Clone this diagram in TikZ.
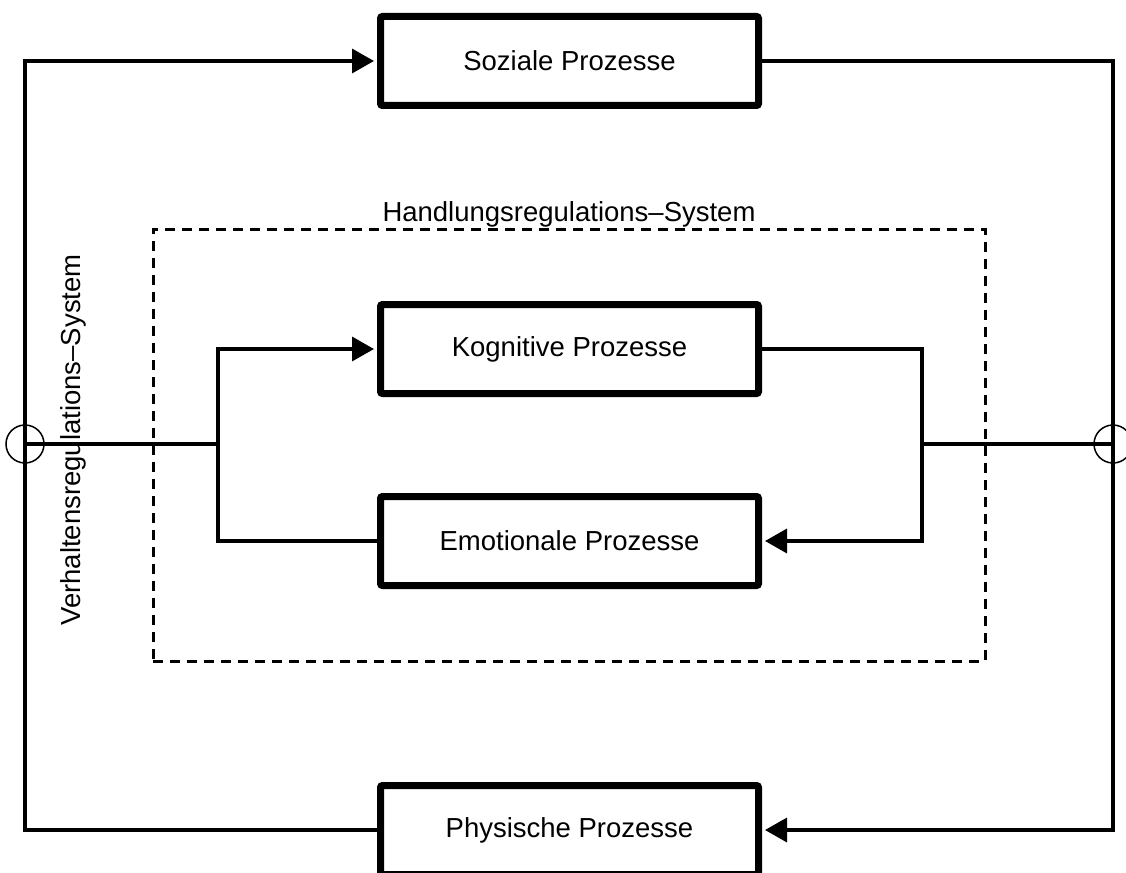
\documentclass[tikz,border=0pt]{standalone}
\usepackage{fontspec}
\setmainfont{Liberation Sans}
\usetikzlibrary{arrows.meta}
\begin{document}
\begin{tikzpicture}[x=1pt,y=-1pt,
  every node/.style={font=\fontsize{27.5}{33}\selectfont},
  procbox/.style={draw, line width=7pt, rounded corners=2pt, inner sep=0pt,
    minimum width=378pt, minimum height=89pt},
  junction/.style={draw, circle, line width=1.5pt, inner sep=0pt, minimum size=38pt},
  conn/.style={line width=3.5pt},
  arr/.style={-{Triangle[length=22pt,width=24pt]}, shorten >=3pt},
  sysframe/.style={draw, line width=3pt, dash pattern=on 10pt off 7pt,
    minimum width=832pt, minimum height=432pt, inner sep=0pt}]
  \useasboundingbox (0,0) rectangle (1126,872);

  % inner action-regulation frame
  \node[sysframe] (hsys) at (569,445) {};
  \node[anchor=base] (hlabel) at (569,221) {Handlungsregulations–System};

  % process boxes
  \node[procbox] (soz) at (569.5,61) {Soziale Prozesse};
  \node[procbox] (kog) at (569.5,349) {Kognitive Prozesse};
  \node[procbox] (emo) at (569.5,541) {Emotionale Prozesse};
  \node[procbox] (phy) at (569.5,830) {Physische Prozesse};

  % summing junctions and branch points
  \node[junction] (cL) at (25,444) {};
  \node[junction] (cR) at (1113,444) {};
  \coordinate (jL) at (218,444);
  \coordinate (jR) at (922,444);

  % outer behaviour-regulation loop
  \draw[conn,arr] (phy.west) -| (cL.center) |- (soz.west);
  \draw[conn,arr] (soz.east) -| (cR.center) |- (phy.east);

  % inner loop
  \draw[conn] (cL.center) -- (jL);
  \draw[conn,arr] (emo.west) -| (jL) |- (kog.west);
  \draw[conn,arr] (kog.east) -| (jR) |- (emo.east);
  \draw[conn] (jR) -- (cR.center);

  % side label
  \node[rotate=90] (vlabel) at (73,440) {Verhaltensregulations–System};
\end{tikzpicture}
\end{document}
